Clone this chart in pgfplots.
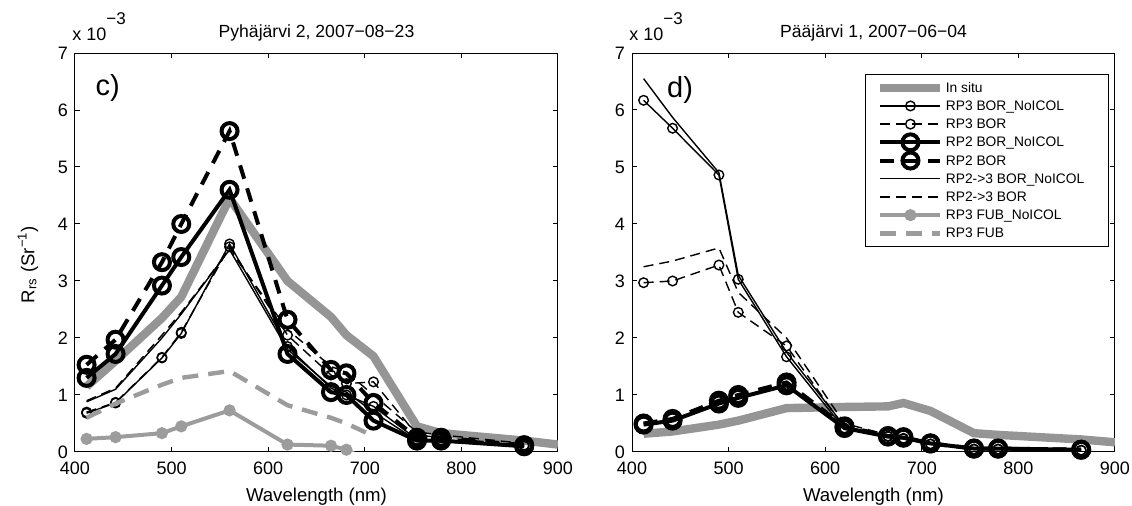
\documentclass[border=0pt]{standalone}
\usepackage{fontspec}
\setmainfont{Liberation Sans}
\usepackage{pgfplots}
\pgfplotsset{compat=1.18}

\definecolor{insitugray}{HTML}{959595}
\definecolor{fubgray}{HTML}{9C9C9C}

\pgfplotsset{
  rrs/.style={
    scale only axis, width=241.5pt, height=199.5pt,
    xmin=400, xmax=900, ymin=0, ymax=7,
    xtick={400,500,...,900}, ytick={0,1,...,7},
    tick align=inside, major tick length=2.5pt,
    axis line style={line width=0.5pt},
    every tick/.style={black, line width=0.5pt},
    tick label style={font=\fontsize{9}{10}\selectfont},
    xticklabel style={yshift=-1.2pt},
    /pgf/number format/assume math mode=true,
    /pgf/number format/1000 sep={},
    xlabel={Wavelength (nm)},
    label style={font=\fontsize{9.3}{11}\selectfont},
    ylabel style={xshift=-6pt, yshift=3pt},
    title style={font=\fontsize{8.8}{10}\selectfont, yshift=-3.5pt},
    clip mode=individual,
  },
  sInsitu/.style={insitugray, line width=4.2pt, no marks},
  sRPthreeNC/.style={black, line width=0.7pt, mark=o, mark size=2.4pt, mark options={solid}},
  sRPthree/.style={black, line width=0.7pt, dash pattern=on 5pt off 3pt, mark=o, mark size=2.4pt, mark options={solid}},
  sRPtwoNC/.style={black, line width=2pt, mark=o, mark size=4pt, mark options={solid}},
  sRPtwo/.style={black, line width=2pt, dash pattern=on 7pt off 5pt, mark=o, mark size=4pt, mark options={solid}},
  sRPtwothreeNC/.style={black, line width=0.7pt, no marks},
  sRPtwothree/.style={black, line width=0.7pt, dash pattern=on 5pt off 3pt, no marks},
  sFUBNC/.style={fubgray, line width=2pt, mark=*, mark size=2pt, mark options={solid}},
  sFUB/.style={fubgray, line width=2.2pt, dash pattern=on 8pt off 5pt, no marks},
}
\newcommand{\expo}{x 10\raisebox{8pt}{\fontsize{8.5}{9}\selectfont −3}}

\begin{document}
\begin{tikzpicture}
\useasboundingbox (0,0) rectangle (566pt,253pt);

% c) Pyhajarvi
\begin{axis}[rrs, at={(37.5pt,27pt)}, anchor=south west,
  title={Pyhäjärvi 2, 2007−08−23},
  ylabel={R\textsubscript{rs} (Sr\textsuperscript{−1})},
]
\addplot[sInsitu] coordinates {(412,1.15)(442,1.6)(490,2.35)(510,2.72)(560,4.45)(620,3.0)(665,2.37)(681,2.05)(709,1.68)(754,0.45)(779,0.33)(865,0.2)(900,0.13)};
\addplot[sRPthreeNC] coordinates {(412,0.68)(442,0.86)(490,1.65)(510,2.08)(560,3.65)(620,1.85)(665,1.12)(681,1.0)(709,0.8)(754,0.22)(779,0.2)(865,0.1)};
\addplot[sRPthree] coordinates {(412,0.7)(442,0.87)(490,1.66)(510,2.1)(560,3.6)(620,2.05)(665,1.35)(681,1.2)(709,1.23)(754,0.3)(779,0.25)(865,0.12)};
\addplot[sRPtwoNC] coordinates {(412,1.3)(442,1.72)(490,2.92)(510,3.42)(560,4.6)(620,1.72)(665,1.05)(681,1.0)(709,0.55)(754,0.2)(779,0.2)(865,0.1)};
\addplot[sRPtwo] coordinates {(412,1.53)(442,1.97)(490,3.33)(510,4.0)(560,5.63)(620,2.32)(665,1.44)(681,1.38)(709,0.86)(754,0.25)(779,0.25)(865,0.12)};
\addplot[sRPtwothreeNC] coordinates {(412,0.88)(442,1.1)(490,2.0)(510,2.42)(560,3.55)(620,1.8)(665,1.15)(681,1.05)(709,0.7)(754,0.2)(779,0.18)(865,0.1)};
\addplot[sRPtwothree] coordinates {(412,0.9)(442,1.12)(490,2.05)(510,2.45)(560,3.55)(620,2.15)(665,1.5)(681,1.4)(709,1.0)(754,0.35)(779,0.3)(865,0.15)};
\addplot[sFUBNC] coordinates {(412,0.23)(442,0.26)(490,0.33)(510,0.45)(560,0.73)(620,0.13)(665,0.11)(681,0.04)(709,-0.2)};
\addplot[sFUB] coordinates {(412,0.6)(442,0.85)(490,1.18)(510,1.3)(560,1.42)(620,0.82)(665,0.6)(681,0.5)(709,0.28)};
\node[anchor=base west, inner sep=0pt, font=\fontsize{9}{10}\selectfont] at (rel axis cs:0,1) [xshift=-1.5pt, yshift=6.5pt] {\expo};
\node[anchor=west, inner sep=0pt, font=\fontsize{14.5}{16}\selectfont] at (axis cs:421,6.39) {c)};
\end{axis}

% d) Paajarvi
\begin{axis}[rrs, at={(316pt,27pt)}, anchor=south west,
  title={Pääjärvi 1, 2007−06−04},
  legend cell align=left,
  legend image code/.code={\draw[mark repeat=2,mark phase=2] plot coordinates {(0pt,0pt)(15pt,0pt)(30pt,0pt)};},
  legend style={at={(0.9876,0.947)}, anchor=north east, draw=black, line width=0.5pt,
    font=\fontsize{6.9}{8}\selectfont, inner xsep=5.5pt, inner ysep=2pt,
    nodes={inner sep=0.6pt, text height=6.2pt, text depth=1.7pt}},
]
\addplot[sInsitu] coordinates {(412,0.32)(442,0.36)(490,0.48)(510,0.55)(560,0.77)(620,0.79)(665,0.8)(681,0.86)(709,0.72)(754,0.33)(779,0.3)(865,0.22)(900,0.17)};
\addlegendentry{In situ}
\addplot[sRPthreeNC] coordinates {(412,6.17)(442,5.68)(490,4.86)(510,3.03)(560,1.67)(620,0.4)(665,0.27)(681,0.23)(709,0.14)(754,0.05)(779,0.05)(865,0.03)};
\addlegendentry{RP3 BOR\_NoICOL}
\addplot[sRPthree] coordinates {(412,2.97)(442,3.0)(490,3.28)(510,2.45)(560,1.86)(620,0.42)(665,0.28)(681,0.24)(709,0.14)(754,0.05)(779,0.05)(865,0.03)};
\addlegendentry{RP3 BOR}
\addplot[sRPtwoNC] coordinates {(412,0.48)(442,0.55)(490,0.85)(510,0.95)(560,1.17)(620,0.42)(665,0.27)(681,0.25)(709,0.15)(754,0.06)(779,0.06)(865,0.04)};
\addlegendentry{RP2 BOR\_NoICOL}
\addplot[sRPtwo] coordinates {(412,0.5)(442,0.58)(490,0.9)(510,1.0)(560,1.22)(620,0.45)(665,0.28)(681,0.26)(709,0.15)(754,0.06)(779,0.06)(865,0.04)};
\addlegendentry{RP2 BOR}
\addplot[sRPtwothreeNC] coordinates {(412,6.55)(442,5.87)(490,4.9)(510,3.1)(560,1.75)(620,0.45)(665,0.28)(681,0.24)(709,0.15)(754,0.05)(779,0.05)(865,0.03)};
\addlegendentry{RP2->3 BOR\_NoICOL\hspace*{6pt}}
\addplot[sRPtwothree] coordinates {(412,3.25)(442,3.35)(490,3.58)(510,2.8)(560,2.0)(620,0.5)(665,0.3)(681,0.26)(709,0.16)(754,0.06)(779,0.06)(865,0.04)};
\addlegendentry{RP2->3 BOR}
\addlegendimage{sFUBNC}
\addlegendentry{RP3 FUB\_NoICOL}
\addlegendimage{sFUB}
\addlegendentry{RP3 FUB}
\node[anchor=base west, inner sep=0pt, font=\fontsize{9}{10}\selectfont] at (rel axis cs:0,1) [xshift=-1.5pt, yshift=6.5pt] {\expo};
\node[anchor=west, inner sep=0pt, font=\fontsize{14.5}{16}\selectfont] at (axis cs:436,6.35) {d)};
\end{axis}
\end{tikzpicture}
\end{document}
